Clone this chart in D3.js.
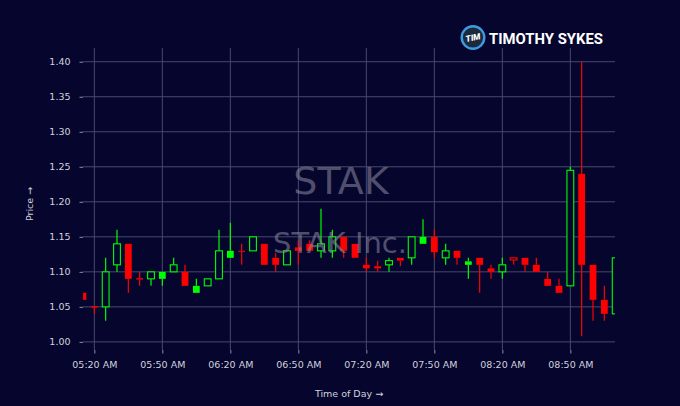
<!DOCTYPE html>
<html lang="en">
<head>
<meta charset="UTF-8">
<script src="https://d3js.org/d3.v7.min.js"></script>
<style>
    body { margin: 0; background: #05052e; overflow: hidden; }
    svg { display: block; }
    .tick text { font-family: "DejaVu Sans", sans-serif; font-size: 9.5px; fill: #d2d2dc; }
    .tick line { stroke: #9090a0; }
    .domain { display: none; }
</style>
</head>
<body>
<svg id="chart" width="680" height="406"></svg>
<script>
// 5-minute candles, STAK
const times = ["05:15","05:20","05:25","05:30","05:35","05:40","05:45","05:50","05:55","06:00",
               "06:05","06:10","06:15","06:20","06:25","06:30","06:35","06:40","06:45","06:50",
               "06:55","07:00","07:05","07:10","07:15","07:20","07:25","07:30","07:35","07:40",
               "07:45","07:50","07:55","08:00","08:05","08:10","08:15","08:20","08:25","08:30",
               "08:35","08:40","08:45","08:50","08:55","09:00","09:05","09:10"];
const opens  = [1.07, 1.051, 1.05, 1.11, 1.14, 1.091, 1.09, 1.09, 1.10, 1.10,
                1.07, 1.08, 1.09, 1.12, 1.13, 1.13, 1.14, 1.12, 1.11, 1.135,
                1.14, 1.13, 1.13, 1.15, 1.14, 1.11, 1.108, 1.11, 1.12, 1.12,
                1.14, 1.15, 1.12, 1.13, 1.11, 1.12, 1.105, 1.10, 1.12, 1.12,
                1.11, 1.09, 1.08, 1.08, 1.24, 1.11, 1.06, 1.04];
const highs  = [1.07, 1.051, 1.12, 1.16, 1.14, 1.10, 1.10, 1.10, 1.12, 1.11,
                1.09, 1.09, 1.16, 1.17, 1.14, 1.15, 1.14, 1.127, 1.13, 1.145,
                1.145, 1.19, 1.16, 1.15, 1.14, 1.12, 1.116, 1.12, 1.12, 1.15,
                1.175, 1.16, 1.14, 1.13, 1.12, 1.12, 1.11, 1.12, 1.12, 1.12,
                1.12, 1.10, 1.09, 1.25, 1.40, 1.11, 1.08, 1.17];
const lows   = [1.06, 1.04, 1.03, 1.10, 1.07, 1.08, 1.08, 1.08, 1.10, 1.08,
                1.07, 1.08, 1.09, 1.12, 1.11, 1.13, 1.11, 1.10, 1.11, 1.11,
                1.13, 1.12, 1.12, 1.12, 1.12, 1.10, 1.10, 1.10, 1.108, 1.11,
                1.14, 1.12, 1.11, 1.11, 1.09, 1.07, 1.09, 1.09, 1.11, 1.10,
                1.10, 1.08, 1.07, 1.08, 1.008, 1.03, 1.03, 1.04];
const closes = [1.06, 1.049, 1.10, 1.14, 1.09, 1.089, 1.10, 1.10, 1.11, 1.08,
                1.08, 1.09, 1.13, 1.13, 1.129, 1.15, 1.11, 1.11, 1.13, 1.13,
                1.13, 1.14, 1.15, 1.13, 1.12, 1.105, 1.105, 1.116, 1.116, 1.15,
                1.15, 1.128, 1.13, 1.12, 1.115, 1.11, 1.10, 1.11, 1.117, 1.11,
                1.10, 1.08, 1.07, 1.245, 1.11, 1.06, 1.04, 1.12];
const yTicks = [1.00, 1.05, 1.10, 1.15, 1.20, 1.25, 1.30, 1.35, 1.40];
const xTicks = ["05:20","05:50","06:20","06:50","07:20","07:50","08:20","08:50"];
const xLimits = ["05:15:00", "09:09:42"];

const bg = "#05052e";
const upColor = "#00ff00", downColor = "#ff0000";

const parseHM = d3.timeParse("%H:%M"), parseHMS = d3.timeParse("%H:%M:%S");
const fmt = d3.timeFormat("%I:%M %p");

const candles = times.map((t, i) => ({
    t: parseHM(t), o: opens[i], h: highs[i], l: lows[i], c: closes[i],
    prev: i > 0 ? closes[i - 1] : opens[i]
}));

const margin = {top: 48, right: 65, bottom: 56, left: 83};
const width = 680, height = 406;
const svg = d3.select("#chart");

const x = d3.scaleTime()
    .domain(xLimits.map(parseHMS))
    .range([margin.left, width - margin.right]);
const lo = d3.min(lows), hi = d3.max(highs), pad = (hi - lo) * 0.05;
const y = d3.scaleLinear()
    .domain([lo - pad, hi + pad])
    .range([height - margin.bottom, margin.top]);

svg.append("rect").attr("width", width).attr("height", height).attr("fill", bg);

// grid
const grid = svg.append("g").attr("stroke", "#4a4a6e").attr("stroke-width", 1);
grid.selectAll(".hg").data(yTicks).enter().append("line")
    .attr("x1", margin.left).attr("x2", width - margin.right)
    .attr("y1", d => y(d)).attr("y2", d => y(d));
grid.selectAll(".vg").data(xTicks).enter().append("line")
    .attr("x1", d => x(parseHM(d))).attr("x2", d => x(parseHM(d)))
    .attr("y1", margin.top).attr("y2", height - margin.bottom);

// axes
svg.append("g")
    .attr("transform", `translate(${margin.left},0)`)
    .call(d3.axisLeft(y).tickValues(yTicks).tickFormat(d3.format(".2f")).tickSize(3.5).tickPadding(9));
svg.append("g")
    .attr("transform", `translate(0,${height - margin.bottom})`)
    .call(d3.axisBottom(x).tickValues(xTicks.map(parseHM)).tickFormat(fmt).tickSize(3.5).tickPadding(8.2));

// candles
svg.append("clipPath").attr("id", "plot").append("rect")
    .attr("x", margin.left).attr("y", margin.top)
    .attr("width", width - margin.left - margin.right)
    .attr("height", height - margin.top - margin.bottom);

const bw = x(parseHM("00:03")) - x(parseHM("00:00"));
const plot = svg.append("g").attr("clip-path", "url(#plot)");
const g = plot.selectAll(".candle").data(candles).enter().append("g");
const col = d => d.c > d.o ? upColor : downColor;
const hollow = d => d.c > d.prev + 1e-9;

g.append("line")
    .attr("x1", d => x(d.t)).attr("x2", d => x(d.t))
    .attr("y1", d => y(d.h)).attr("y2", d => y(Math.max(d.o, d.c)))
    .attr("stroke", col).attr("stroke-width", 1.2);
g.append("line")
    .attr("x1", d => x(d.t)).attr("x2", d => x(d.t))
    .attr("y1", d => y(Math.min(d.o, d.c))).attr("y2", d => y(d.l))
    .attr("stroke", col).attr("stroke-width", 1.2);
g.append("rect")
    .attr("x", d => x(d.t) - bw / 2)
    .attr("width", bw)
    .attr("y", d => y(Math.max(d.o, d.c)))
    .attr("height", d => Math.max(1, y(Math.min(d.o, d.c)) - y(Math.max(d.o, d.c))))
    .attr("fill", d => hollow(d) ? bg : col(d))
    .attr("stroke", d => hollow(d) ? col(d) : "none")
    .attr("stroke-width", 1.1);

// watermark
svg.append("text").attr("x", 341).attr("y", 194).attr("text-anchor", "middle")
    .style("font-family", "DejaVu Sans").style("font-size", "38px")
    .attr("fill", "#8c8ca0").attr("opacity", 0.55).text("STAK");
svg.append("text").attr("x", 340).attr("y", 253).attr("text-anchor", "middle")
    .style("font-family", "DejaVu Sans").style("font-size", "29px")
    .attr("fill", "#8c8ca0").attr("opacity", 0.55).text("STAK Inc.");

// axis labels
svg.append("text").attr("x", (margin.left + width - margin.right) / 2).attr("y", 397)
    .attr("text-anchor", "middle").attr("fill", "#d2d2dc")
    .style("font-family", "DejaVu Sans").style("font-size", "9.5px").text("Time of Day →");
svg.append("text").attr("transform", "translate(33,204) rotate(-90)")
    .attr("text-anchor", "middle").attr("fill", "#d2d2dc")
    .style("font-family", "DejaVu Sans").style("font-size", "9.5px").text("Price →");

// logo
const logo = svg.append("g");
logo.append("circle").attr("cx", 473).attr("cy", 37.5).attr("r", 11.3)
    .attr("fill", "#1d2a3d").attr("stroke", "#3d9be0").attr("stroke-width", 2.4);
logo.append("text").attr("x", 473).attr("y", 40.5).attr("text-anchor", "middle")
    .attr("transform", "rotate(-12,473,37.5)")
    .style("font-family", "Roboto").style("font-weight", 900).style("font-style", "italic")
    .style("font-size", "8.5px").attr("fill", "#ffffff").text("TIM");
logo.append("text").attr("x", 489).attr("y", 44.3)
    .attr("textLength", 114).attr("lengthAdjust", "spacingAndGlyphs")
    .style("font-family", "Roboto").style("font-weight", 700).style("font-size", "15px")
    .attr("fill", "#ffffff").text("TIMOTHY SYKES");
</script>
</body>
</html>
